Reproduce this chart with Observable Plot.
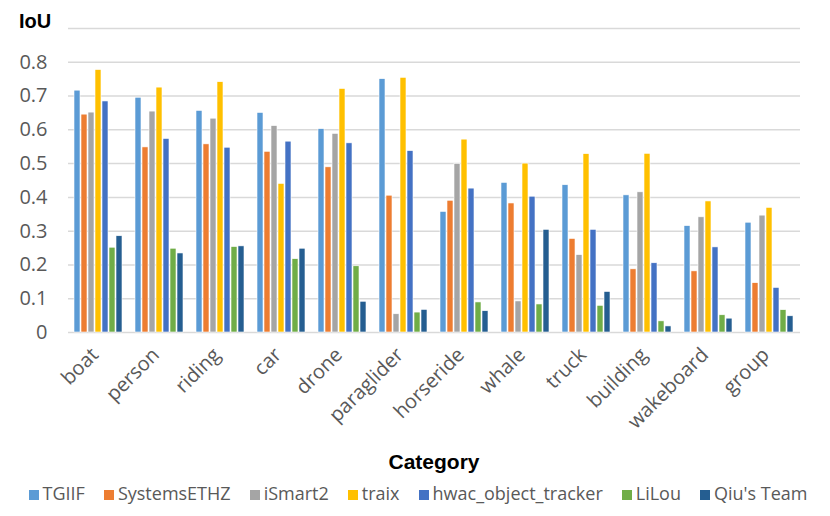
<!DOCTYPE html>
<html>
<head>
<meta charset="utf-8">
<script src="https://cdn.jsdelivr.net/npm/d3@7"></script>
<script src="https://cdn.jsdelivr.net/npm/@observablehq/plot@0.6"></script>
<style>
  body { margin: 0; background: #fff; font-family: "Open Sans", "Liberation Sans", Arial, sans-serif; }
  #wrap { width: 830px; height: 516px; position: relative; }
  #ytitle { position: absolute; left: 19px; top: 10px; font-weight: bold; font-size: 20px; color: #000; font-family: "Liberation Sans", Arial, sans-serif; }
  #xtitle { text-align: center; font-weight: bold; font-size: 21px; color: #000; margin-left: 38px; margin-top: 7px; height: 30px; line-height: 30px; font-family: "Liberation Sans", Arial, sans-serif; }
  #legend { display: flex; justify-content: center; gap: 19px; font-size: 18px; color: #595959; margin-left: 6px; margin-top: 4px; }
  #legend span.sw { display: inline-block; width: 10px; height: 10px; margin-right: 4px; }
</style>
</head>
<body>
<div id="wrap">
  <div id="chart"></div>
  <div id="ytitle">IoU</div>
  <div id="xtitle">Category</div>
  <div id="legend"></div>
</div>
<script>
const categories = ["boat","person","riding","car","drone","paraglider","horseride","whale","truck","building","wakeboard","group"];
const seriesNames = ["TGIIF","SystemsETHZ","iSmart2","traix","hwac_object_tracker","LiLou","Qiu's Team"];
const seriesColors = ["#5B9BD5","#ED7D31","#A5A5A5","#FFC000","#4472C4","#70AD47","#255E91"];

const TGIIF       = [0.716,0.695,0.656,0.650,0.602,0.750,0.357,0.443,0.436,0.406,0.315,0.325];
const SystemsETHZ = [0.645,0.548,0.557,0.535,0.489,0.405,0.390,0.382,0.277,0.187,0.181,0.146];
const iSmart2     = [0.651,0.654,0.633,0.611,0.588,0.054,0.499,0.092,0.229,0.415,0.341,0.346];
const traix       = [0.777,0.725,0.741,0.440,0.721,0.754,0.571,0.500,0.528,0.529,0.388,0.369];
const hwac        = [0.684,0.573,0.547,0.565,0.560,0.537,0.426,0.402,0.304,0.205,0.252,0.132];
const LiLou       = [0.251,0.248,0.253,0.217,0.196,0.059,0.089,0.083,0.079,0.033,0.051,0.066];
const QiuTeam     = [0.285,0.234,0.255,0.248,0.091,0.067,0.063,0.304,0.120,0.018,0.041,0.048];

const yTicks = [0,0.1,0.2,0.3,0.4,0.5,0.6,0.7,0.8];
const gridTicks = [0.1,0.2,0.3,0.4,0.5,0.6,0.7,0.8,0.9];

const allSeries = [TGIIF, SystemsETHZ, iSmart2, traix, hwac, LiLou, QiuTeam];
const data = [];
categories.forEach((c, i) => {
  seriesNames.forEach((s, j) => data.push({category: c, series: s, value: allSeries[j][i]}));
});

const font = `"Open Sans", "Liberation Sans", Arial, sans-serif`;
const chart = Plot.plot({
  width: 830,
  height: 440,
  marginTop: 28,
  marginBottom: 108,
  marginLeft: 68,
  marginRight: 30,
  style: {fontFamily: font, background: "#fff"},
  fx: {domain: categories, padding: 0, label: null},
  x: {domain: seriesNames, paddingInner: 0.1, paddingOuter: 0.85, axis: null},
  y: {domain: [0, 0.9], label: null},
  color: {domain: seriesNames, range: seriesColors},
  marks: [
    Plot.ruleY(gridTicks, {stroke: "#d9d9d9", strokeWidth: 1.5}),
    Plot.ruleY([0], {stroke: "#d9d9d9", strokeWidth: 1.5}),
    Plot.barY(data, {fx: "category", x: "series", y: "value", fill: "series", stroke: "#fff", strokeWidth: 0.6}),
    Plot.axisY(yTicks, {tickSize: 0, tickPadding: 21, fontSize: 20, fill: "#595959", label: null,
      tickFormat: d => d === 0 ? "0" : d.toFixed(1)}),
    Plot.axisFx({anchor: "bottom", tickSize: 0, tickRotate: -45, fontSize: 20, fill: "#595959", label: null, tickPadding: 19, dx: -4})
  ]
});
document.getElementById("chart").appendChild(chart);

const legend = document.getElementById("legend");
seriesNames.forEach((s, i) => {
  const item = document.createElement("div");
  item.innerHTML = `<span class="sw" style="background:${seriesColors[i]}"></span>${s}`;
  legend.appendChild(item);
});
</script>
</body>
</html>
